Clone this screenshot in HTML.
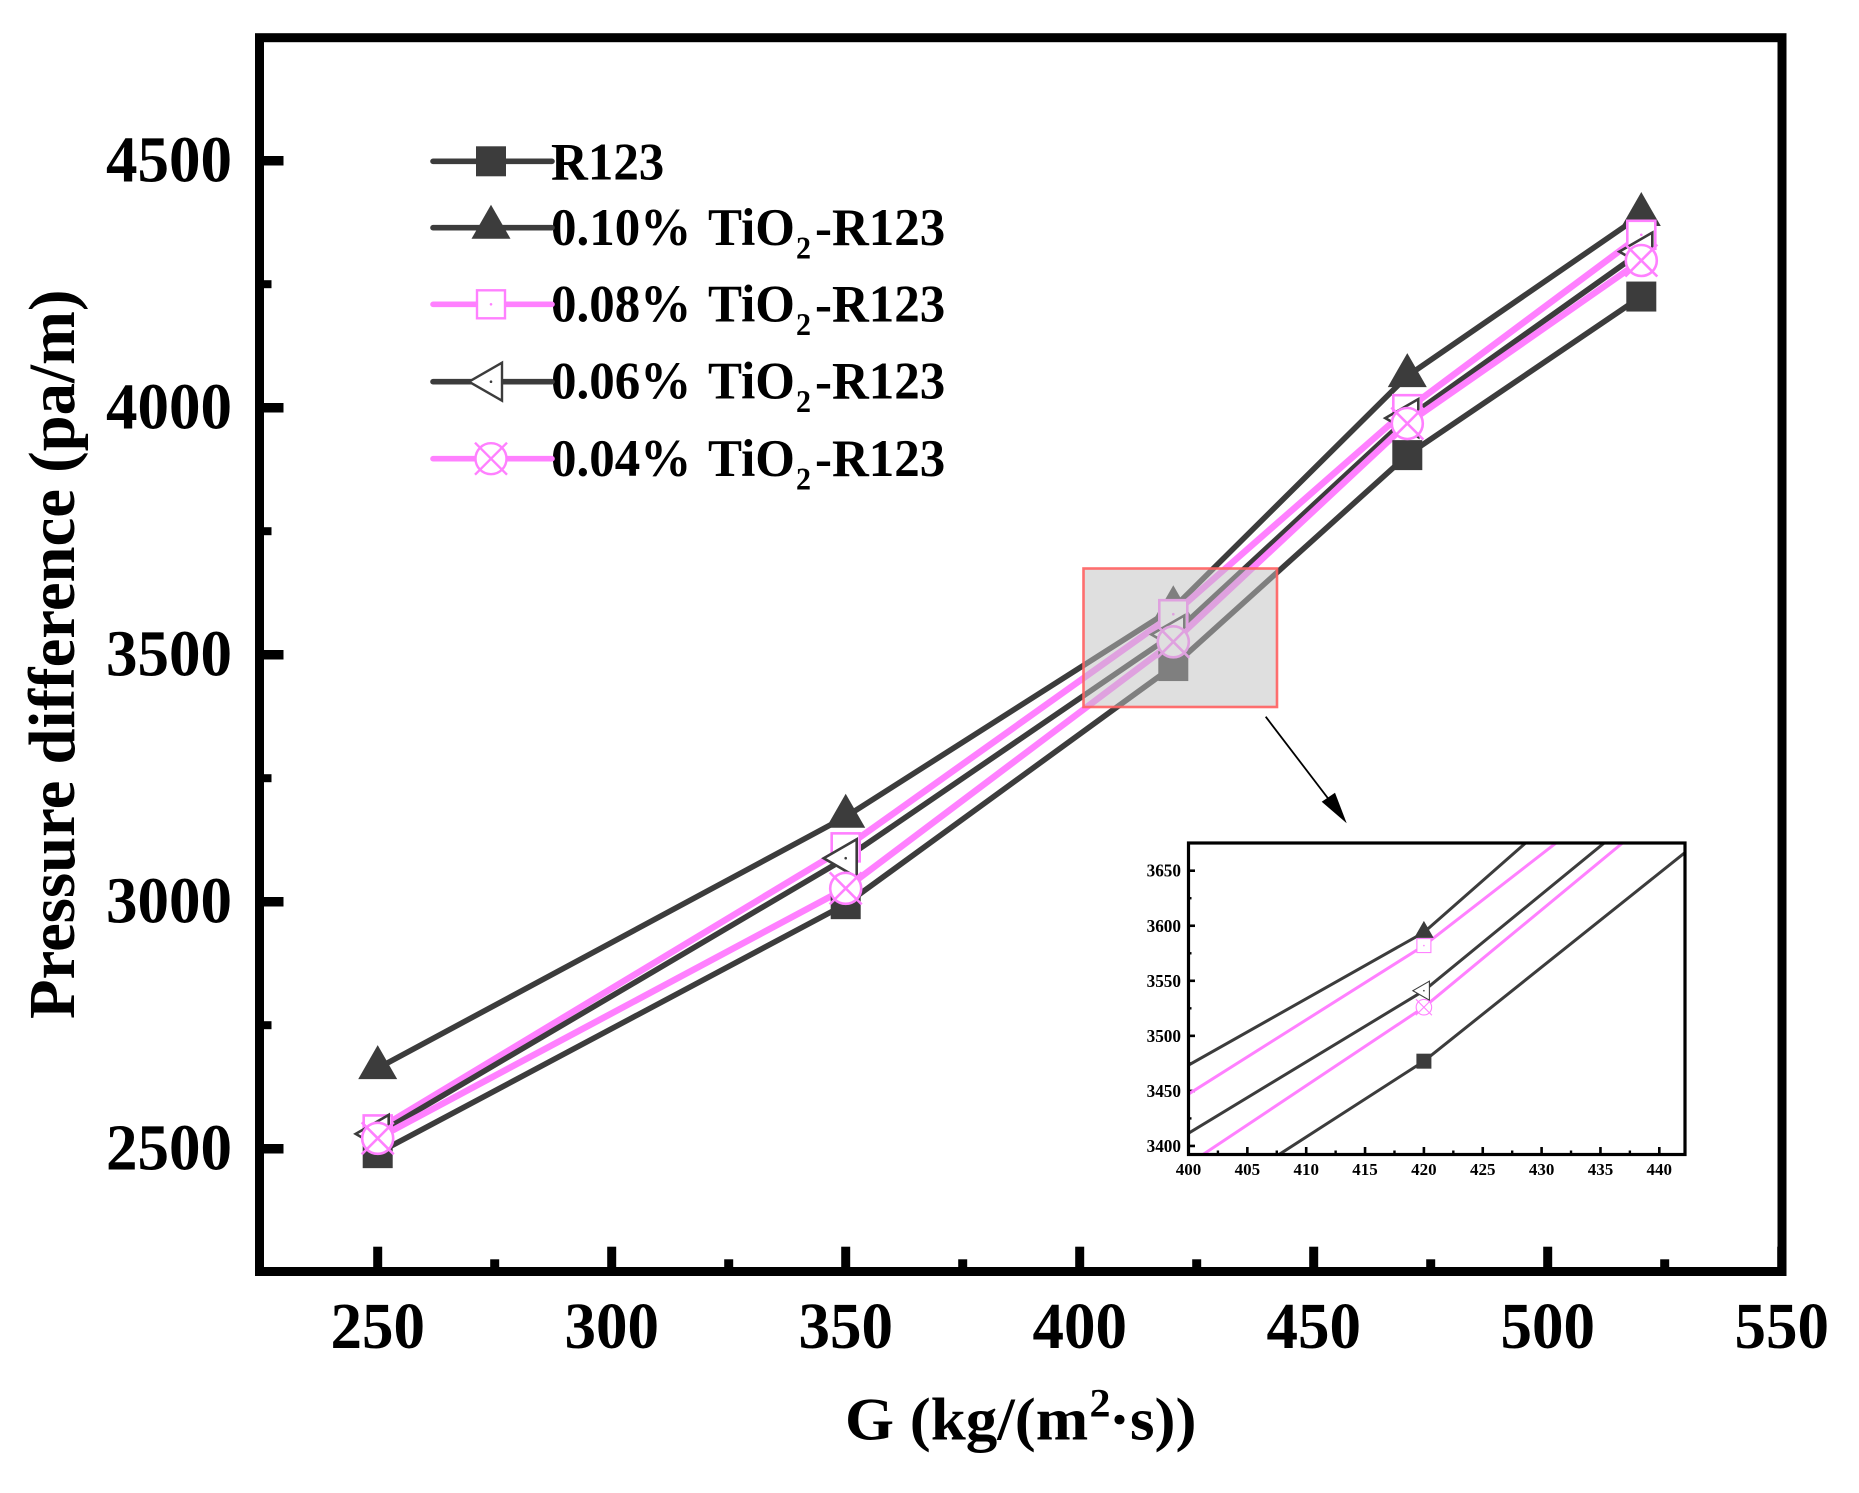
<!DOCTYPE html>
<html lang="en">
<head>
<meta charset="utf-8">
<title>Pressure difference vs G</title>
<style>
html,body{margin:0;padding:0;background:#fff;height:100%;overflow:hidden;}
svg{display:block;overflow:hidden;position:fixed;left:0;top:0;}
text{font-family:"Liberation Serif",serif;font-weight:bold;fill:#000;}
</style>
</head>
<body>
<svg id="chart" xmlns="http://www.w3.org/2000/svg" width="1859" height="1493" viewBox="0 0 1859 1493">
  <rect x="0" y="0" width="1859" height="1493" fill="#fff"/>
  <g id="main-axes"></g>
  <g id="main-series"></g>
  <rect x="259.5" y="37.7" width="1522.5" height="1233.8" fill="none" stroke="#000" stroke-width="9"/>

  <text transform="translate(74,1019) rotate(-90) scale(1,1.02)" font-size="64.7">Pressure difference (pa/m)</text>
  <text transform="translate(845,1439.3) scale(1,0.95)" font-size="63">G (kg/(m<tspan x="244.5" y="-24" font-size="42">2</tspan><tspan x="264" y="0">·s))</tspan></text>

  <g id="legend">
    <text transform="translate(551,179.3) scale(1,1.04)" font-size="51">R123</text>
    <text transform="translate(551,245) scale(1,1.04)" font-size="51">0.10%<tspan x="157">TiO</tspan><tspan x="245" y="13" font-size="30">2</tspan><tspan x="264" y="0">-R123</tspan></text>
    <text transform="translate(551,321.7) scale(1,1.04)" font-size="51">0.08%<tspan x="157">TiO</tspan><tspan x="245" y="13" font-size="30">2</tspan><tspan x="264" y="0">-R123</tspan></text>
    <text transform="translate(551,398.3) scale(1,1.04)" font-size="51">0.06%<tspan x="157">TiO</tspan><tspan x="245" y="13" font-size="30">2</tspan><tspan x="264" y="0">-R123</tspan></text>
    <text transform="translate(551,476) scale(1,1.04)" font-size="51">0.04%<tspan x="157">TiO</tspan><tspan x="245" y="13" font-size="30">2</tspan><tspan x="264" y="0">-R123</tspan></text>
  </g>

  <rect x="1083.5" y="568.5" width="193.5" height="138.5" fill="rgb(193,193,193)" fill-opacity="0.51" stroke="#ff6060" stroke-opacity="0.9" stroke-width="2.6"/>
  <line x1="1265.7" y1="716.7" x2="1335" y2="807.5" stroke="#000" stroke-width="1.8"/>
  <polygon points="1346.7,823.3 1321.7,801.7 1335,792.7" fill="#000"/>

  <rect x="1188.5" y="843" width="496.5" height="311.5" fill="#fff"/>
  <clipPath id="inset-clip"><rect x="1188.5" y="843" width="496.5" height="311.5"/></clipPath>
  <g id="inset-axes"></g>
  <g id="inset-series" clip-path="url(#inset-clip)"></g>
  <rect x="1188.5" y="843" width="496.5" height="311.5" fill="none" stroke="#000" stroke-width="3.2"/>
  <g id="inset-markers"></g>
</svg>

<script>
// ---- Data ----
const massFlux = [250, 350, 420, 470, 520];
const r123 = [2491, 2995, 3477, 3904, 4225];
const tio2010 = [2663, 3172, 3594, 4064, 4390];
const tio2008 = [2539, 3110, 3582, 3997, 4350];
const tio2006 = [2530, 3088, 3541, 3979, 4316];
const tio2004 = [2521, 3027, 3526, 3968, 4298];

const mainXTicks = [250, 300, 350, 400, 450, 500, 550];
const mainXMinor = [275, 325, 375, 425, 475, 525];
const mainYTicks = [2500, 3000, 3500, 4000, 4500];
const mainYMinor = [2750, 3250, 3750, 4250];
const insetXTicks = [400, 405, 410, 415, 420, 425, 430, 435, 440];
const insetXMinor = [402.5, 407.5, 412.5, 417.5, 422.5, 427.5, 432.5, 437.5];
const insetYTicks = [3400, 3450, 3500, 3550, 3600, 3650];
const insetYMinor = [3425, 3475, 3525, 3575, 3625];

const DARK = '#3c3c3c';
const PINK = '#ff80ff';
const SVGNS = 'http://www.w3.org/2000/svg';

// ---- Axis functions ----
function mainX(v) { return 377.7 + (v - 250) * 4.68; }
function mainY(v) { return 160.7 + (4500 - v) * 0.494; }
function insetX(v) { return 1188.5 + (v - 400) * 11.77; }
function insetY(v) { return 870.7 + (3650 - v) * 1.101; }

function make(tag, attrs, parent) {
  const el = document.createElementNS(SVGNS, tag);
  for (const k in attrs) el.setAttribute(k, attrs[k]);
  parent.appendChild(el);
  return el;
}

function drawLine(parent, xs, ys, fx, fy, color, width) {
  const pts = xs.map(function (x, i) { return fx(x).toFixed(1) + ',' + fy(ys[i]).toFixed(1); }).join(' ');
  const el = make('polyline', { points: pts, fill: 'none', stroke: color, 'stroke-width': width, 'stroke-linejoin': 'round' }, parent);
  
  
  return el;
}

function drawMarker(parent, type, cx, cy, s, sw) {
  let el;
  if (type === 'square') {
    el = make('rect', { x: cx - 15 * s, y: cy - 15 * s, width: 30 * s, height: 30 * s, fill: DARK }, parent);
  } else if (type === 'up') {
    el = make('polygon', { points: (cx) + ',' + (cy - 23 * s) + ' ' + (cx + 19.5 * s) + ',' + (cy + 11 * s) + ' ' + (cx - 19.5 * s) + ',' + (cy + 11 * s), fill: DARK }, parent);
  } else if (type === 'hollow-square') {
    el = make('g', {}, parent);
    make('rect', { x: cx - 14 * s, y: cy - 14 * s, width: 28 * s, height: 28 * s, fill: '#fff', stroke: PINK, 'stroke-width': sw }, el);
    make('circle', { cx: cx, cy: cy, r: 1.3 * Math.max(s, 0.6), fill: PINK }, el);
  } else if (type === 'left') {
    el = make('g', {}, parent);
    make('polygon', { points: (cx - 22 * s) + ',' + cy + ' ' + (cx + 11 * s) + ',' + (cy - 19 * s) + ' ' + (cx + 11 * s) + ',' + (cy + 19 * s), fill: '#fff', stroke: DARK, 'stroke-width': sw }, el);
    make('circle', { cx: cx, cy: cy, r: 1.3 * Math.max(s, 0.6), fill: DARK }, el);
  } else {
    el = make('g', {}, parent);
    make('circle', { cx: cx, cy: cy, r: 15.5 * s, fill: '#fff', stroke: PINK, 'stroke-width': sw }, el);
    const d = 16 * s;
    make('path', { d: 'M' + (cx - d) + ' ' + (cy - d) + 'L' + (cx + d) + ' ' + (cy + d) + 'M' + (cx - d) + ' ' + (cy + d) + 'L' + (cx + d) + ' ' + (cy - d), stroke: PINK, 'stroke-width': sw, fill: 'none' }, el);
  }
  
  
  return el;
}

function drawTick(parent, x1, y1, x2, y2, w, name) {
  const t = make('line', { x1: x1, y1: y1, x2: x2, y2: y2, stroke: '#000', 'stroke-width': w }, parent);
  
  
}

function drawLabel(parent, str, x, y, size, anchor, sy, name) {
  const t = make('text', { transform: 'translate(' + x + ',' + y + ') scale(1,' + sy + ')', 'font-size': size, 'text-anchor': anchor }, parent);
  t.textContent = str;
  
  
}

// ---- Main axes ----
const mainAxes = document.getElementById('main-axes');
mainXTicks.forEach(function (v) {
  drawTick(mainAxes, mainX(v), 1268, mainX(v), 1246.7, 9, 'x-major-tick');
  drawLabel(mainAxes, String(v), mainX(v), 1348, 63, 'middle', 1.04, 'x-tick-label');
});
mainXMinor.forEach(function (v) {
  drawTick(mainAxes, mainX(v), 1268, mainX(v), 1259.3, 9, 'x-minor-tick');
});
mainYTicks.forEach(function (v) {
  drawTick(mainAxes, 263, mainY(v), 283.5, mainY(v), 9.5, 'y-major-tick');
  drawLabel(mainAxes, String(v), 232, mainY(v) + 21, 63, 'end', 1.04, 'y-tick-label');
});
mainYMinor.forEach(function (v) {
  drawTick(mainAxes, 263, mainY(v), 271.5, mainY(v), 8, 'y-minor-tick');
});

// ---- Series definitions (draw order) ----
const seriesValues = [r123, tio2010, tio2008, tio2006, tio2004];
const seriesMarkers = ['square', 'up', 'hollow-square', 'left', 'cross-circle'];
const seriesColors = [DARK, DARK, PINK, DARK, PINK];

// ---- Main series ----
const mainSeries = document.getElementById('main-series');
seriesValues.forEach(function (vals, i) {
  drawLine(mainSeries, massFlux, vals, mainX, mainY, seriesColors[i], seriesColors[i] === PINK ? 6.5 : 5.6);
});
seriesValues.forEach(function (vals, i) {
  massFlux.forEach(function (x, j) {
    drawMarker(mainSeries, seriesMarkers[i], mainX(x), mainY(vals[j]), 1, 2.6);
  });
});

// ---- Legend samples ----
const legend = document.getElementById('legend');
const legendRows = [161.3, 227.7, 304.3, 381.7, 458.7];
legendRows.forEach(function (y, i) {
  const l = make('line', { x1: 433, y1: y, x2: 552, y2: y, stroke: seriesColors[i], 'stroke-width': 5.6, 'stroke-linecap': 'round' }, legend);
  
  
  drawMarker(legend, seriesMarkers[i], 491, y, 1, 2.4);
});

// ---- Inset axes ----
const insetAxes = document.getElementById('inset-axes');
insetXTicks.forEach(function (v) {
  drawTick(insetAxes, insetX(v), 1154, insetX(v), 1147, 2.6, 'inset-x-major-tick');
  drawLabel(insetAxes, String(v), insetX(v), 1175, 17, 'middle', 1, 'inset-x-tick-label');
});
insetXMinor.forEach(function (v) {
  drawTick(insetAxes, insetX(v), 1154, insetX(v), 1150.5, 2.4, 'inset-x-minor-tick');
});
insetYTicks.forEach(function (v) {
  drawTick(insetAxes, 1188, insetY(v), 1195, insetY(v), 2.6, 'inset-y-major-tick');
  drawLabel(insetAxes, String(v), 1181, insetY(v) + 6, 17.2, 'end', 1.06, 'inset-y-tick-label');
});
insetYMinor.forEach(function (v) {
  drawTick(insetAxes, 1188, insetY(v), 1191.5, insetY(v), 2.4, 'inset-y-minor-tick');
});

// ---- Inset series ----
const insetSeries = document.getElementById('inset-series');
const insetMarkers = document.getElementById('inset-markers');
seriesValues.forEach(function (vals, i) {
  drawLine(insetSeries, massFlux, vals, insetX, insetY, seriesColors[i], 3);
});
seriesValues.forEach(function (vals, i) {
  massFlux.forEach(function (x, j) {
    const px = insetX(x), py = insetY(vals[j]);
    if (px > 1188.5 && px < 1685 && py > 843 && py < 1154.5) {
      drawMarker(insetMarkers, seriesMarkers[i], px, py, 0.5, 1.1);
    }
  });
});
</script>
</body>
</html>
